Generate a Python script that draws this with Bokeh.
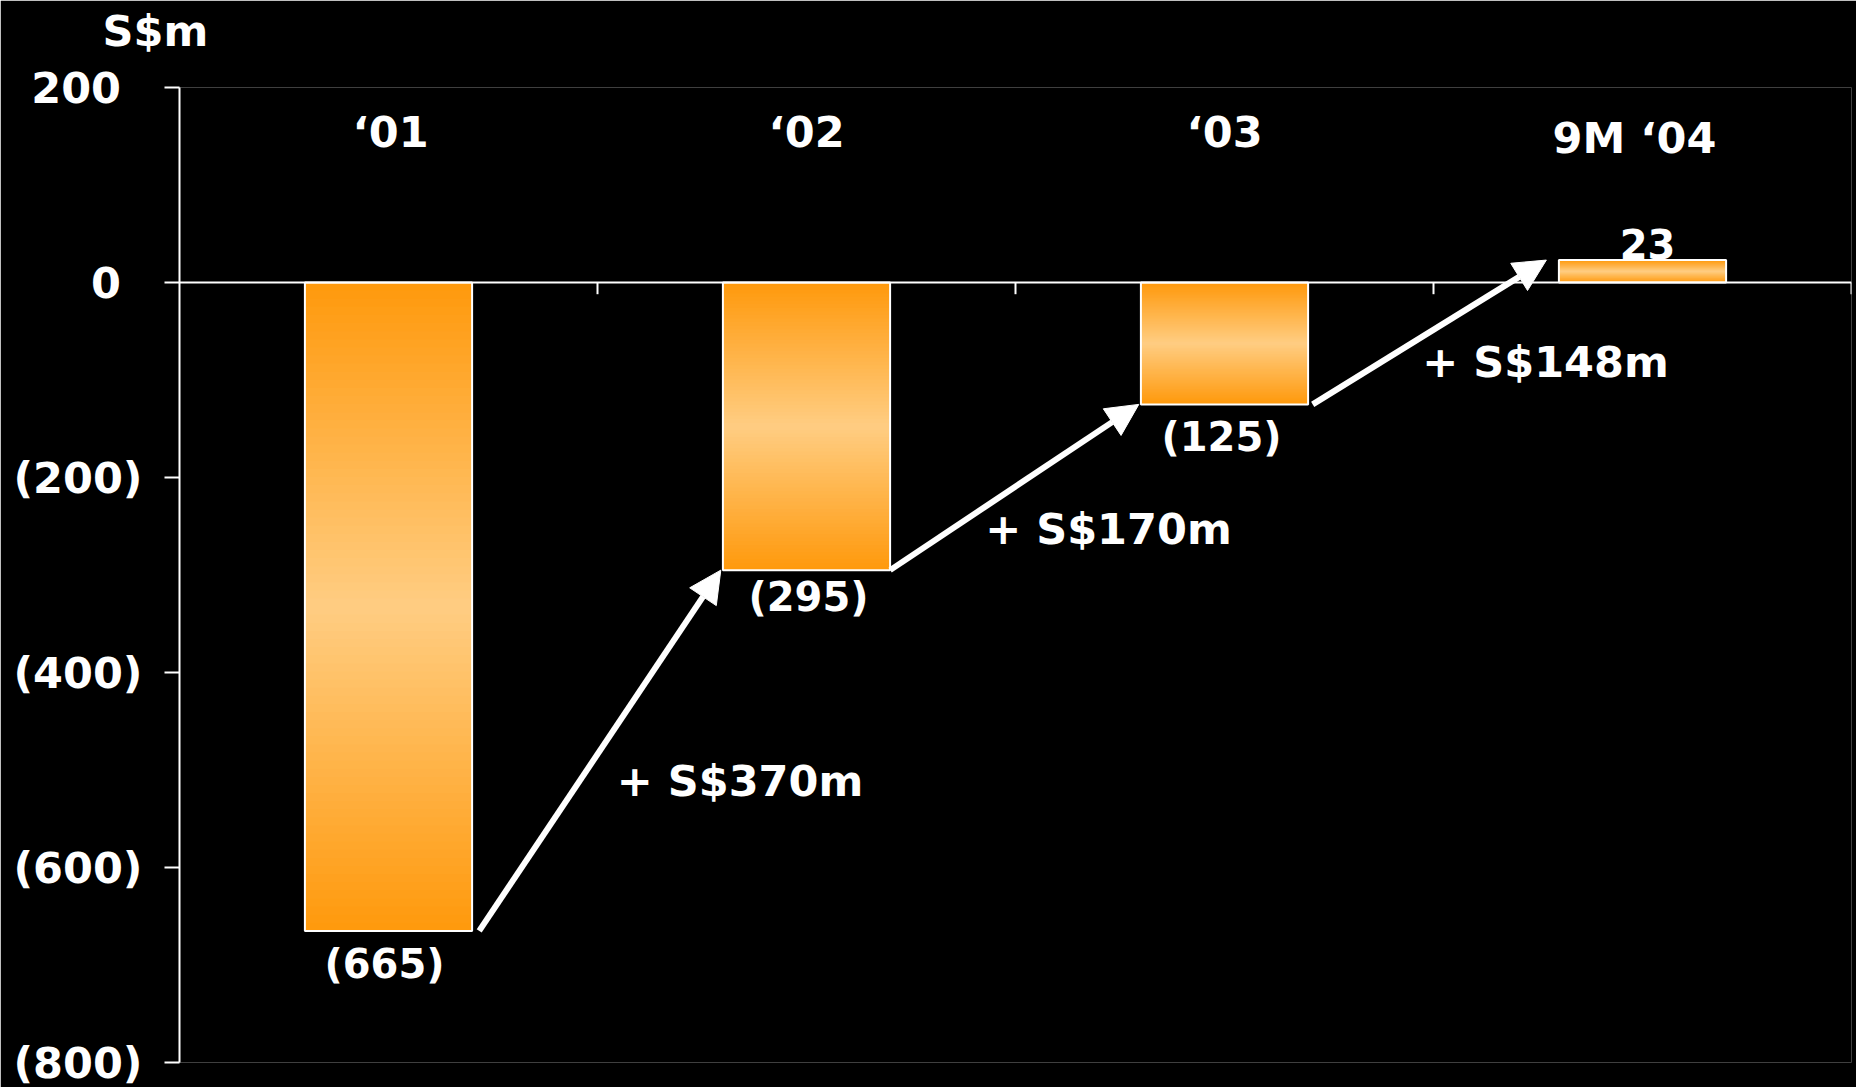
from bokeh.plotting import figure
from bokeh.models import Range1d, FixedTicker, Arrow, NormalHead, ColumnDataSource, Title
from bokeh.core.properties import value
from bokeh.embed import file_html
from bokeh.resources import INLINE

# ---- data ----
categories = ["\u201801", "\u201802", "\u201803", "9M \u201804"]
values = [-665, -295, -125, 23]
y_ticks = [200, 0, -200, -400, -600, -800]
unit_label = "S$m"


def fmt(v):
    return f"({abs(v)})" if v < 0 else str(v)


FONT = value("DejaVu Sans")
n = len(categories)
centers = [i + 0.5 for i in range(n)]
half_w = 0.2

p = figure(width=1856, height=1087,
           x_range=Range1d(0, n), y_range=Range1d(y_ticks[-1], y_ticks[0]),
           output_backend="svg", toolbar_location=None,
           min_border_left=179, min_border_right=5,
           min_border_top=87, min_border_bottom=25,
           background_fill_color="black", border_fill_color="black",
           outline_line_color=None)
p.xaxis.visible = False
p.xgrid.visible = False
p.ygrid.visible = False

# spacer panel between unit label and frame
p.add_layout(Title(text="\u2002", text_font_size="20px", standoff=6,
                   text_color="black"), "above")

# unit label as title (outside the frame)
p.title.text = unit_label
p.title.align = "left"
p.title.offset = -77
p.title.vertical_align = "top"
p.title.standoff = 0
p.title.text_color = "white"
p.title.text_font = "DejaVu Sans"
p.title.text_font_style = "bold"
p.title.text_font_size = "43px"

ax = p.yaxis[0]
ax.ticker = FixedTicker(ticks=y_ticks)
ax.major_label_overrides = {t: (f"({abs(t)})" if t < 0 else f"{t}\u2002") for t in y_ticks}
ax.axis_line_color = "white"
ax.axis_line_width = 2
ax.major_tick_line_color = "white"
ax.major_tick_line_width = 2
ax.major_tick_out = 15
ax.major_tick_in = 0
ax.minor_tick_line_color = None
ax.major_label_text_color = "white"
ax.major_label_text_font = "DejaVu Sans"
ax.major_label_text_font_style = "bold"
ax.major_label_text_font_size = "43px"
ax.major_label_standoff = 22

# ---- gradient bars: nested rectangles centred on each bar ----
end_rgb = (255, 153, 12)
mid_rgb = (255, 205, 130)
N = 40
L, R, T, B, C = [], [], [], [], []
for c, v in zip(centers, values):
    lo, hi = min(v, 0), max(v, 0)
    mid = (lo + hi) / 2
    half = (hi - lo) / 2
    for k in range(N):
        frac = (N - k) / N
        d = (N - k - 0.5) / N
        col = tuple(int(round(m + (e - m) * d)) for m, e in zip(mid_rgb, end_rgb))
        L.append(c - half_w)
        R.append(c + half_w)
        B.append(mid - half * frac)
        T.append(mid + half * frac)
        C.append("#%02x%02x%02x" % col)
p.quad(left="l", right="r", top="t", bottom="b", fill_color="c", line_color=None,
       source=ColumnDataSource(dict(l=L, r=R, t=T, b=B, c=C)))

bars = ColumnDataSource(dict(
    l=[c - half_w for c in centers], r=[c + half_w for c in centers],
    t=[max(v, 0) for v in values], b=[min(v, 0) for v in values]))
p.quad(left="l", right="r", top="t", bottom="b", fill_color=None,
       line_color="white", line_width=2, source=bars)

# ---- baseline at zero with category ticks ----
p.segment(x0=[0], y0=[0], x1=[n], y1=[0], line_color="white", line_width=2)
p.segment(x0=list(range(1, n + 1)), y0=[0] * n, x1=list(range(1, n + 1)), y1=[-12] * n,
          line_color="white", line_width=2)

# ---- category labels at top ----
p.text(x=centers, y=[y_ticks[0]] * n, text=categories,
       x_offset=[2, 0, 0, -8], y_offset=[44, 44, 44, 50],
       text_align="center", text_baseline="middle", text_color="white",
       text_font=FONT, text_font_style="bold", text_font_size="43px")

# ---- value labels ----
p.text(x=centers, y=values, text=[fmt(v) for v in values],
       x_offset=[-4, 2, -3, 5], y_offset=[33, 27, 33, -16],
       text_align="center", text_baseline="middle", text_color="white",
       text_font=FONT, text_font_style="bold", text_font_size="40px")

# ---- arrows and change labels ----
start_gap = [0.017, 0.0, 0.011]
end_gap = [0.005, 0.005, 0.03]
xs = [centers[i] + half_w + start_gap[i] for i in range(n - 1)]
ys = [values[i] for i in range(n - 1)]
xe = [centers[i + 1] - half_w - end_gap[i] for i in range(n - 1)]
ye = [values[i + 1] for i in range(n - 1)]
arrows = ColumnDataSource(dict(xs=xs, ys=ys, xe=xe, ye=ye))
p.add_layout(Arrow(x_start="xs", y_start="ys", x_end="xe", y_end="ye", source=arrows,
                   line_color="white", line_width=6,
                   end=NormalHead(size=32, fill_color="white", line_color="white")))

deltas = [values[i + 1] - values[i] for i in range(n - 1)]
p.text(x=[(a + b) / 2 for a, b in zip(xs, xe)], y=[(a + b) / 2 for a, b in zip(ys, ye)],
       text=[f"+ S${d}m" for d in deltas],
       x_offset=[140, 94, 116], y_offset=[30, 42, 30],
       text_align="center", text_baseline="middle", text_color="white",
       text_font=FONT, text_font_style="bold", text_font_size="43px")

open("out.html", "w").write(file_html(p, INLINE))
